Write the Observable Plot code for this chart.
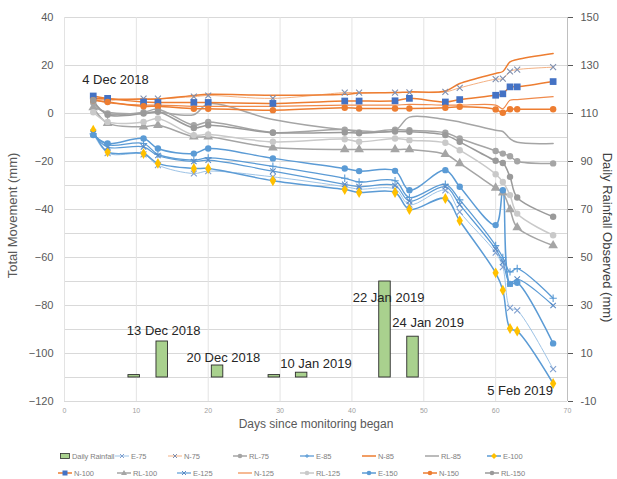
<!DOCTYPE html>
<html><head><meta charset="utf-8">
<script src="https://cdn.jsdelivr.net/npm/d3@7"></script>
<script src="https://cdn.jsdelivr.net/npm/@observablehq/plot@0.6"></script>
<style>
body{margin:0;background:#fff;font-family:"Liberation Sans",Arial,sans-serif;}
#wrap{position:relative;width:617px;height:479px;overflow:hidden;}
#legend{position:absolute;left:0;top:0;width:617px;height:479px;pointer-events:none;}
.li{position:absolute;display:flex;align-items:center;white-space:nowrap;font-size:7.5px;letter-spacing:-0.1px;color:#7f7f7f;height:10px;}
.li svg{margin-right:2px;}
</style></head><body>
<div id="wrap"><div id="chart"></div><div id="legend"></div></div>
<script>
// ---- data ----
const days = [4, 6, 11, 13, 18, 20, 29, 39, 41, 46, 48, 53, 55, 60, 61, 62, 63, 68];
const e75  = [-8, -16.5, -17, -21.5, -25, -24, -26.4, -30.5, -31.5, -31.5, -38, -32, -41, -58, -64, -81, -82, -106.5];
const n75  = [6, 5.5, 6.2, 6.2, 7, 7.5, 6.3, 8.7, 8.7, 8.7, 8.8, 9, 10.7, 14.3, 14.5, 17.5, 18.3, 19.3];
const rl75 = [4.5, 0, 0.5, 1.8, -4.9, -3.5, -7.9, -6.7, -7.9, -6.7, -7, -8, -10.4, -15.6, -16.7, -17.8, -19.9, -20.8];
const e85  = [-8.5, -13, -12.5, -17, -19.4, -18.5, -22, -27, -28.5, -28, -35, -29.5, -36, -55, -60, -66, -64.6, -77];
const n85  = [6.5, 6, 6, 6, 7.5, 8, 7.6, 8, 8.5, 8.7, 9, 9.4, 12.5, 16.7, 17.5, 21.5, 22.5, 25];
const rl85 = [3, 0.5, 0, 0.5, -0.5, 4, -2.5, -6.8, -7.2, -7, -1.5, -2.5, -3.5, -7, -7.5, -10.5, -12, -12.5];
const e100 = [-7, -16, -16.7, -20.8, -22.9, -22.9, -28, -31.7, -32.9, -32.9, -40, -35.4, -44.7, -66.4, -73.6, -89.6, -90.7, -112.5];
const n100 = [7.3, 6.3, 4.8, 4.6, 4.6, 4.6, 4.2, 5.2, 5.2, 5.3, 6.3, 4.8, 5.8, 7.6, 8.2, 11.1, 11.1, 13.3];
const rl100= [2.5, -4, -5.5, -4.9, -9.7, -9.7, -14.2, -15, -15, -15, -15, -17, -20.8, -31, -33, -40, -47.5, -55];
const e125 = [-8.5, -14, -13.9, -17.5, -20, -19.4, -24, -29.5, -30.5, -30, -36.5, -30.5, -38, -56.5, -62, -71, -69, -80];
const n125 = [6, 4.5, 3.5, 3.5, 3, 3, 3, 3.5, 3.5, 3.5, 3.8, 3.5, 3.5, 3.5, 2, 5.5, 5.8, 7];
const rl125= [0.5, -3.5, -3.5, -2.1, -9, -8.7, -11.8, -10.7, -11.8, -10.4, -11.1, -12.2, -15.3, -25.3, -28.5, -34, -41.7, -50.7];
const e150 = [-9, -12.5, -10.4, -14.6, -16.7, -14.6, -18.7, -22.9, -24, -23.9, -32, -23.6, -30.5, -46.5, -32, -71, -70.5, -95.8];
const n150 = [5.5, 4.8, 3, 3, 2, 2, 1.4, 2.4, 2.1, 2.1, 2.1, 2.4, 2.8, 1.7, 0.3, 1.8, 1.8, 1.8];
const rl150= [5.5, -0.5, 0, 0.7, -6, -4.9, -8, -7.9, -8.2, -7.5, -7.6, -9, -11.8, -19.7, -20.6, -26.4, -35, -43];

const seriesNames  = ["E-75","N-75","RL-75","E-85","N-85","RL-85","E-100","N-100","RL-100","E-125","N-125","RL-125","E-150","N-150","RL-150"];
const seriesValues = [e75, n75, rl75, e85, n85, rl85, e100, n100, rl100, e125, n125, rl125, e150, n150, rl150];

const rainDays = [9.7, 13.6, 21.3, 29.2, 33, 44.6, 48.5];
const rainMm   = [1, 15, 5, 1, 2, 40, 17];

const leftTicks  = [40, 20, 0, -20, -40, -60, -80, -100, -120];
const rightTicks = [150, 130, 110, 90, 70, 50, 30, 10, -10];
const xTicks     = [0, 10, 20, 30, 40, 50, 60, 70];

const noteText = ["4 Dec 2018", "13 Dec 2018", "20 Dec 2018", "10 Jan 2019", "22 Jan 2019", "24 Jan 2019", "5 Feb 2019"];
const noteDay  = [7.1, 13.8, 22.1, 35, 45.1, 50.6, 63.4];
const noteVal  = [13.9, -90.6, -101.7, -104.5, -77, -87.2, -115.6];

// ---- styles ----
const BLUE="#5b9bd5", LBLUE="#9dc3e6", OR="#ed7d31", LOR="#f4b183", GR="#a5a5a5", LGR="#c9c9c9";
const styles = {
  "E-75":  {stroke:LBLUE, w:1,   mk:"times",   mf:null, ms:"#7f9fcf", r:2.8},
  "N-75":  {stroke:LOR,   w:1,   mk:"times",   mf:null, ms:"#7f8faf", r:2.8},
  "RL-75": {stroke:GR,    w:1.5, mk:"circle",  mf:GR,   ms:null, r:3.2},
  "E-85":  {stroke:BLUE,  w:1.3, mk:"plus",    mf:null, ms:BLUE, r:2.5},
  "N-85":  {stroke:OR,    w:1.5, mk:null},
  "RL-85": {stroke:GR,    w:1.5, mk:null},
  "E-100": {stroke:BLUE,  w:1.5, mk:"diamond", mf:"#ffc000", ms:null, r:3.3},
  "N-100": {stroke:OR,    w:1.5, mk:"square",  mf:"#4472c4", ms:null, r:3.8},
  "RL-100":{stroke:GR,    w:1.5, mk:"triangle",mf:GR,   ms:null, r:3.6},
  "E-125": {stroke:BLUE,  w:1.2, mk:"times",   mf:null, ms:"#5b8bc5", r:2.6},
  "N-125": {stroke:"#f08a4b", w:1.2, mk:null},
  "RL-125":{stroke:LGR,   w:1.5, mk:"circle",  mf:LGR,  ms:null, r:3.2},
  "E-150": {stroke:BLUE,  w:1.5, mk:"circle",  mf:BLUE, ms:null, r:3.2},
  "N-150": {stroke:OR,    w:1.5, mk:"circle",  mf:OR,   ms:null, r:3.2},
  "RL-150":{stroke:"#9a9a9a", w:1.5, mk:"circle", mf:"#9a9a9a", ms:null, r:3.2}
};

// ---- tables ----
const rows = seriesNames.flatMap((n, i) => days.map((d, j) => ({name: n, day: d, v: seriesValues[i][j]})));
const rain = rainDays.map((d, i) => ({day: d, mm: rainMm[i]}));
const notes = noteText.map((t, i) => ({t, day: noteDay[i], v: noteVal[i]}));
const RAIN_OFFSET = 110; // right axis = left axis + 110
const gridVals = [40, 20, 0, -10, -20, -30, -40, -50, -60, -70, -80, -90, -100, -110, -120];

const marks = [
  Plot.ruleY(gridVals, {stroke:"#d9d9d9", strokeWidth:1}),
  Plot.ruleX(xTicks, {stroke:"#e3e3e3", strokeWidth:1}),
  Plot.rect(rain, {x1: d => d.day - 0.8, x2: d => d.day + 0.8, y1: () => -RAIN_OFFSET, y2: d => d.mm - RAIN_OFFSET,
    fill:"#a9d18e", stroke:"#2b2b2b", strokeWidth:0.9})
];
for (const n of seriesNames) {
  const st = styles[n];
  const data = rows.filter(r => r.name === n);
  marks.push(Plot.line(data, {x:"day", y:"v", stroke:st.stroke, strokeWidth:st.w, curve:"catmull-rom"}));
}
for (const n of seriesNames) {
  const st = styles[n];
  if (!st.mk) continue;
  const data = rows.filter(r => r.name === n);
  marks.push(Plot.dot(data, {x:"day", y:"v", symbol:st.mk, r:st.r,
    fill: st.mf || "none", stroke: st.ms || "none", strokeWidth: st.ms ? 1.1 : 0}));
}
marks.push(
  Plot.axisY(leftTicks, {anchor:"left", tickSize:0, tickPadding:11, fontSize:11, label:null, color:"#595959"}),
  Plot.axisY(rightTicks.map(r => r - RAIN_OFFSET), {anchor:"right", tickFormat: d => d + RAIN_OFFSET, tickSize:5, tickPadding:8, fontSize:11, label:null, color:"#595959"}),
  Plot.ruleX([70], {stroke:"#bfbfbf"}),
  Plot.axisX(xTicks, {anchor:"bottom", tickSize:0, tickPadding:7, fontSize:7, label:null, color:"#a0a0a0"}),
  Plot.text(notes, {x:"day", y:"v", text:"t", fontSize:13, fill:"#262626"}),
  Plot.text(["Total Movement (mm)"], {frameAnchor:"left", textAnchor:"middle", dx:-52, dy:6, rotate:-90, fontSize:13, fill:"#595959"}),
  Plot.text(["Daily Rainfall Observed (mm)"], {frameAnchor:"right", textAnchor:"middle", dx:40, dy:28, rotate:90, fontSize:13, fill:"#404040"}),
  Plot.text(["Days since monitoring began"], {frameAnchor:"bottom", textAnchor:"middle", dy:26, fontSize:12, fill:"#595959"})
);

const chart = Plot.plot({
  width: 617, height: 440,
  marginTop: 17, marginLeft: 64, marginRight: 50, marginBottom: 39,
  x: {domain:[0, 70]},
  y: {domain:[-120, 40]},
  style: {fontFamily:"'Liberation Sans', Arial, sans-serif", background:"#fff", overflow:"visible"},
  marks
});
document.getElementById("chart").append(chart);

// ---- legend (below the svg) ----
const legendOrder = [["Daily Rainfall","E-75","N-75","RL-75","E-85","N-85","RL-85","E-100"],
                     ["N-100","RL-100","E-125","N-125","RL-125","E-150","N-150","RL-150"]];
const legendX = [[60,115,168,233,300,362,425,487],[58,117,177,238,300,362,423,485]];
const legendY = [451, 468];
function markerSvg(st, cx, cy) {
  const f = st.mf || "none", s = st.ms || "none";
  switch (st.mk) {
    case "circle": return `<circle cx="${cx}" cy="${cy}" r="2.3" fill="${f}"/>`;
    case "square": return `<rect x="${cx-2.5}" y="${cy-2.5}" width="5" height="5" fill="${f}"/>`;
    case "triangle": return `<polygon points="${cx},${cy-3} ${cx+3},${cy+2} ${cx-3},${cy+2}" fill="${f}"/>`;
    case "diamond": return `<polygon points="${cx},${cy-3} ${cx+3},${cy} ${cx},${cy+3} ${cx-3},${cy}" fill="${f}"/>`;
    case "times": return `<path d="M${cx-2},${cy-2}L${cx+2},${cy+2}M${cx-2},${cy+2}L${cx+2},${cy-2}" stroke="${s}" stroke-width="1"/>`;
    case "plus": return `<path d="M${cx-2},${cy}L${cx+2},${cy}M${cx},${cy-2}L${cx},${cy+2}" stroke="${s}" stroke-width="1"/>`;
    default: return "";
  }
}
const leg = document.getElementById("legend");
legendOrder.forEach((row, ri) => row.forEach((name, ci) => {
  const el = document.createElement("div");
  el.className = "li";
  el.style.left = legendX[ri][ci] + "px";
  el.style.top = legendY[ri] + "px";
  let sw;
  if (name === "Daily Rainfall") {
    sw = `<svg width="10" height="10"><rect x="0.5" y="2.5" width="9" height="5" fill="#a9d18e" stroke="#2b2b2b" stroke-width="0.8"/></svg>`;
  } else {
    const st = styles[name];
    sw = `<svg width="14" height="10"><line x1="0" x2="14" y1="5" y2="5" stroke="${st.stroke}" stroke-width="${st.w}"/>${st.mk ? markerSvg(st, 7, 5) : ""}</svg>`;
  }
  el.innerHTML = sw + `<span>${name}</span>`;
  leg.append(el);
}));
</script>
</body></html>
